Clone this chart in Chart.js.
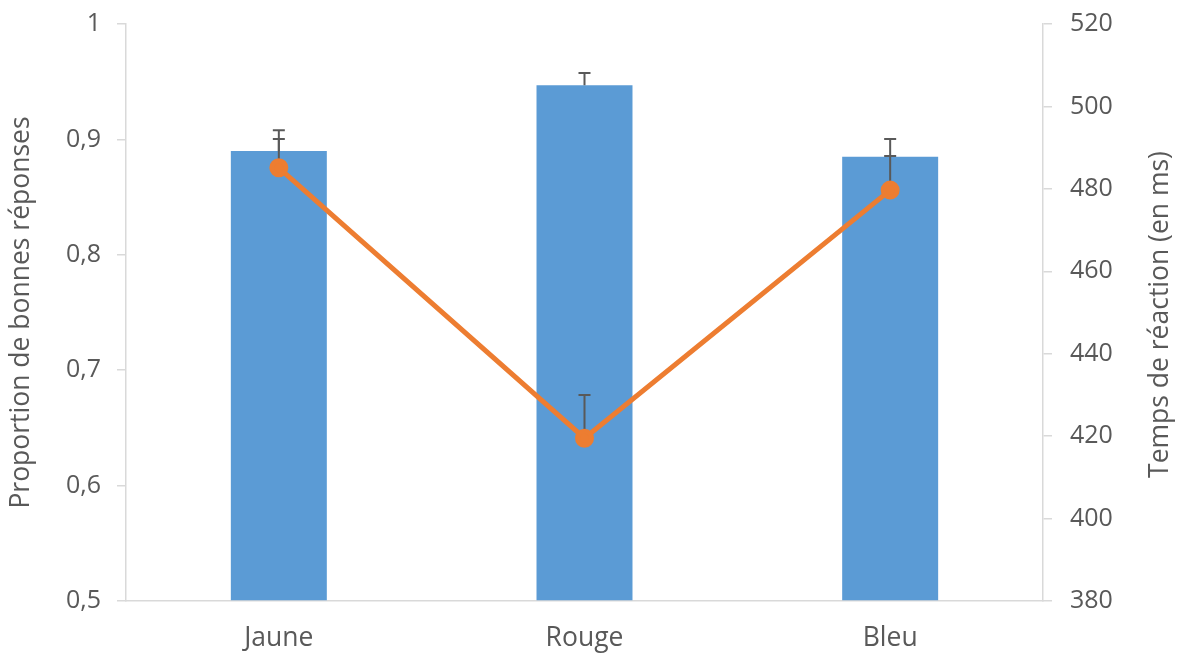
<!DOCTYPE html>
<html>
<head>
<meta charset="utf-8">
<script src="https://cdn.jsdelivr.net/npm/chart.js@4/dist/chart.umd.min.js"></script>
<style>
  html, body { margin: 0; padding: 0; background: #fff; }
  #wrap { width: 1177px; height: 653px; position: relative; }
</style>
</head>
<body>
<div id="wrap"><canvas id="c"></canvas></div>
<script>
// Données
const categories = ["Jaune", "Rouge", "Bleu"];
const proportion = [0.890, 0.947, 0.885];      // axe gauche (barres)
const proportionErr = [0.018, 0.0105, 0.0153]; // barres d'erreur (vers le haut)
const tempsReaction = [485.1, 419.5, 479.7];   // axe droit (ligne)
const tempsErr = [7.0, 10.5, 8.3];
const leftTicks = [0.5, 0.6, 0.7, 0.8, 0.9, 1];
const rightTicks = [380, 400, 420, 440, 460, 480, 500, 520];
const rightTitle = "Temps de réaction (en ms)";

const FONT = "'Open Sans', sans-serif";
const TXT = "#595959";
const AXIS = "#d9d9d9";
const TICK_SIZE = 25;
const LABEL_SIZE = 26.5;

// Barres d'erreur (partie haute seulement, comme dans Excel)
const errorBars = {
    id: "errorBars",
    afterDatasetDraw(chart, args) {
        if (args.index !== 1) return; // après les barres, avant la ligne
        const ctx = chart.ctx;
        const yL = chart.scales.y, yR = chart.scales.y2;
        const barMeta = chart.getDatasetMeta(1);
        const lineMeta = chart.getDatasetMeta(0);
        ctx.save();
        ctx.strokeStyle = "#595959";
        ctx.lineWidth = 2;
        const cap = 6;
        function draw(x, y0, y1) {
            ctx.beginPath();
            ctx.moveTo(x, y0); ctx.lineTo(x, y1);
            ctx.moveTo(x - cap, y1); ctx.lineTo(x + cap, y1);
            ctx.stroke();
        }
        barMeta.data.forEach((el, i) => {
            draw(el.x, yL.getPixelForValue(proportion[i]), yL.getPixelForValue(proportion[i] + proportionErr[i]));
        });
        lineMeta.data.forEach((el, i) => {
            draw(el.x, yR.getPixelForValue(tempsReaction[i]), yR.getPixelForValue(tempsReaction[i] + tempsErr[i]));
        });
        ctx.restore();
    }
};

// Titre de l'axe droit, lu de bas en haut (Chart.js le tourne dans l'autre sens)
const rightAxisTitle = {
    id: "rightAxisTitle",
    afterDraw(chart) {
        const ctx = chart.ctx;
        const a = chart.chartArea;
        ctx.save();
        ctx.translate(1160, (a.top + a.bottom) / 2 + 2);
        ctx.rotate(-Math.PI / 2);
        ctx.fillStyle = TXT;
        ctx.font = LABEL_SIZE + "px " + FONT;
        ctx.textAlign = "center";
        ctx.textBaseline = "middle";
        ctx.fillText(rightTitle, 0, 0);
        ctx.restore();
    }
};

// Zone de tracé fixe : les axes ne réclament pas de marge en haut/bas
function fixY(width) {
    return function (s) {
        s.width = width;
        s.paddingTop = 0;
        s.paddingBottom = 0;
    };
}

new Chart(document.getElementById("c"), {
    data: {
        labels: categories,
        datasets: [
            {
                type: "line",
                data: tempsReaction,
                yAxisID: "y2",
                order: 0,
                borderColor: "#ED7D31",
                backgroundColor: "#ED7D31",
                borderWidth: 5,
                pointRadius: 7,
                pointBackgroundColor: "#ED7D31",
                pointBorderColor: "#ED7D31",
                tension: 0
            },
            {
                type: "bar",
                data: proportion,
                yAxisID: "y",
                order: 1,
                backgroundColor: "#5B9BD5",
                barPercentage: 0.314,
                categoryPercentage: 1,
                base: 0.5
            }
        ]
    },
    options: {
        responsive: true,
        maintainAspectRatio: false,
        animation: false,
        layout: { padding: { top: 24, left: 0, right: 0, bottom: 0 } },
        plugins: { legend: { display: false }, tooltip: { enabled: false } },
        scales: {
            x: {
                offset: true,
                grid: { display: false },
                border: { display: true, color: AXIS, width: 1.5 },
                ticks: { color: TXT, font: { family: FONT, size: LABEL_SIZE }, padding: 14 },
                afterFit(s) { s.height = 52; s.paddingLeft = 0; s.paddingRight = 0; }
            },
            y: {
                position: "left",
                min: 0.5, max: 1,
                afterBuildTicks(s) { s.ticks = leftTicks.map(v => ({ value: v })); },
                grid: { display: true, drawOnChartArea: false, drawTicks: true, tickLength: 9, color: AXIS, lineWidth: 1.5 },
                border: { display: true, color: AXIS, width: 1.5 },
                ticks: {
                    color: TXT, font: { family: FONT, size: TICK_SIZE }, padding: 16,
                    callback: v => Number.isInteger(v) ? String(v) : v.toFixed(1).replace(".", ",")
                },
                title: { display: true, text: "Proportion de bonnes réponses", color: TXT, font: { family: FONT, size: LABEL_SIZE }, padding: { top: 6, bottom: 0 } },
                afterFit: fixY(126)
            },
            y2: {
                position: "right",
                min: 380, max: 520,
                afterBuildTicks(s) { s.ticks = rightTicks.map(v => ({ value: v })); },
                grid: { display: true, drawOnChartArea: false, drawTicks: true, tickLength: 9, color: AXIS, lineWidth: 1.5 },
                border: { display: true, color: AXIS, width: 1.5 },
                ticks: { color: TXT, font: { family: FONT, size: TICK_SIZE }, padding: 18 },
                afterFit: fixY(134)
            }
        }
    },
    plugins: [errorBars, rightAxisTitle]
});
</script>
</body>
</html>
